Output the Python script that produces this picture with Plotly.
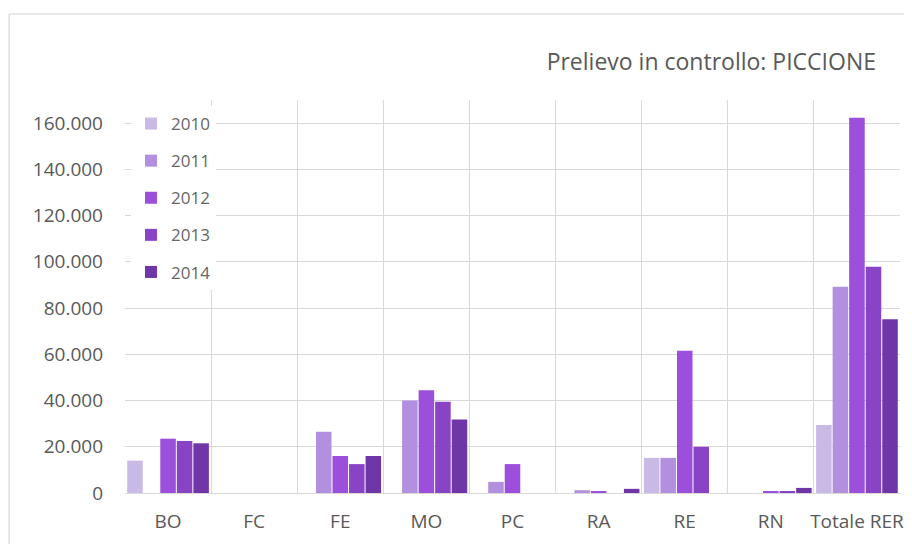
import plotly.graph_objects as go

categories = ["BO", "FC", "FE", "MO", "PC", "RA", "RE", "RN", "Totale RER"]
years = ["2010", "2011", "2012", "2013", "2014"]
v2010 = [14000, 0, 0, 0, 0, 0, 15200, 0, 29400]
v2011 = [0, 0, 26500, 40000, 4800, 1200, 15200, 0, 89200]
v2012 = [23500, 0, 16000, 44500, 12500, 500, 61500, 800, 162300]
v2013 = [22500, 0, 12500, 39500, 0, 0, 20000, 800, 97900]
v2014 = [21500, 0, 16000, 31800, 0, 1800, 0, 2200, 75200]
series = [v2010, v2011, v2012, v2013, v2014]
colors = ["#c9b9e6", "#b38fe0", "#9b4fda", "#8944c6", "#6f36a8"]

fig = go.Figure()
for name, vals, col in zip(years, series, colors):
    fig.add_trace(go.Bar(x=categories, y=vals, name=name, legendgroup=name,
                         marker=dict(color=col, line=dict(width=0))))

font = "Open Sans, Liberation Sans, sans-serif"
grey = "#d9d9d9"
W, H = 904, 536
L, T, R, B = 117, 92, 8, 51
plot_w = W - L - R
plot_h = H - T - B
fig.update_layout(
    width=W, height=H,
    margin=dict(l=L, r=R, t=T, b=B),
    paper_bgcolor="white", plot_bgcolor="white",
    barmode="group", bargap=0.04, bargroupgap=0.06,
    separators=",.",
    font=dict(family=font, size=17, color="#595959"),
    title=dict(text="Prelievo in controllo: PICCIONE", xref="container", x=868/W,
               xanchor="right", y=1-54/H, yanchor="middle",
               font=dict(family=font, size=23, color="#595959")),
    legend=dict(x=6/plot_w, y=1 - 6/plot_h, xanchor="left", yanchor="top", bgcolor="white",
                font=dict(size=17, color="#666666"), tracegroupgap=12,
                itemwidth=30),
    showlegend=True,
)
fig.update_xaxes(type="category", range=[-0.5, len(categories) - 0.5],
                 showgrid=False, showline=True, linecolor=grey, linewidth=1,
                 ticks="", ticklabelstandoff=11,
                 tickfont=dict(size=19, color="#595959"),
                 minor=dict(tickvals=[i - 0.5 for i in range(len(categories) + 1)],
                            showgrid=True, gridcolor=grey, gridwidth=1, ticks=""))
fig.update_yaxes(range=[0, 170000], dtick=20000, tickformat=",d",
                 showgrid=True, gridcolor=grey, gridwidth=1,
                 zeroline=False, ticks="", ticklabelstandoff=21,
                 tickfont=dict(size=19, color="#595959"))
fig.add_shape(type="rect", xref="paper", yref="paper",
              x0=(0.5 - L) / plot_w, x1=1.2, y0=-0.3, y1=(plot_h + T - 6) / plot_h,
              line=dict(color="#cfcfcf", width=1), fillcolor="rgba(0,0,0,0)", layer="below")
fig.write_html("out.html")
